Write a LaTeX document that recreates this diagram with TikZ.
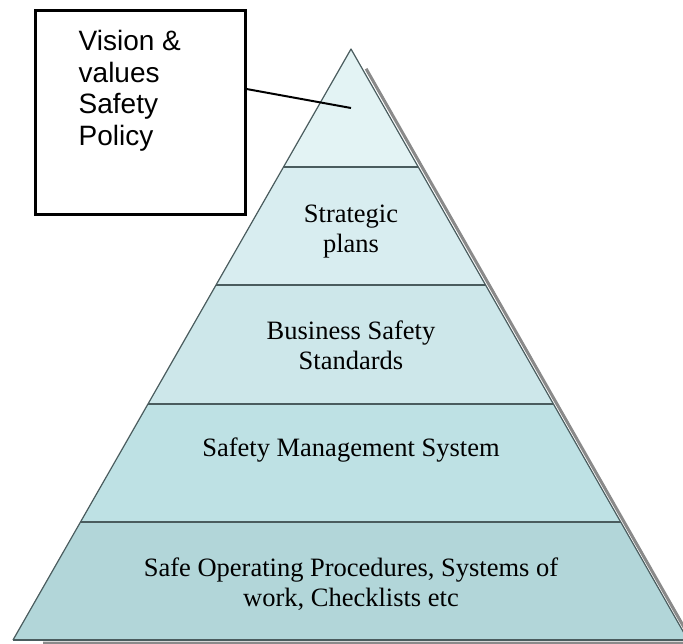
\documentclass[tikz,border=0pt]{standalone}
\usepackage{fontspec}
\setmainfont{Liberation Serif}
\newfontfamily\calloutfont{Liberation Sans}
\usetikzlibrary{calc}

\definecolor{tierA}{HTML}{E3F3F4}
\definecolor{tierB}{HTML}{D8EDF0}
\definecolor{tierC}{HTML}{CDE7EA}
\definecolor{tierD}{HTML}{BEE1E4}
\definecolor{tierE}{HTML}{B2D6D9}
\definecolor{edgegrey}{HTML}{4A5C5E}
\definecolor{shadegrey}{HTML}{8A8A8A}

\begin{document}
\begin{tikzpicture}[x=1pt, y=-1pt,
  outline/.style={draw=edgegrey, line width=1.2pt, line join=round},
  divider/.style={draw=edgegrey, line width=2pt},
  shade/.style={draw=shadegrey, line width=3pt},
  tierlabel/.style={font=\fontsize{26.5}{30}\selectfont, align=center, inner sep=0pt},
  calloutbox/.style={draw=black, line width=3pt, minimum width=210pt, minimum height=204pt, inner sep=0pt},
  callouttext/.style={font=\calloutfont\fontsize{28}{31.5}\selectfont, align=left, inner sep=0pt},
  pointer/.style={draw=black, line width=2pt}]
  \useasboundingbox (0,0) rectangle (683,643);

  \coordinate (apex) at (351,49);
  \coordinate (baseL) at (13,640);
  \coordinate (baseR) at (688,640);

  % shadow on the right side and under the base
  \draw[shade] ($(apex)!0.03!(baseR)+(5,2)$) -- ($(baseR)+(5,3)$) -- ($(baseL)+(30,3)$);

  % tiers, top to bottom
  \foreach \i/\c [evaluate=\i as \lo using (\i-1)/5, evaluate=\i as \hi using \i/5] in {1/tierA,2/tierB,3/tierC,4/tierD,5/tierE}
    \fill[\c] ($(apex)!\lo!(baseL)$) -- ($(apex)!\hi!(baseL)$) -- ($(apex)!\hi!(baseR)$) -- ($(apex)!\lo!(baseR)$) -- cycle;

  \draw[outline] (baseL) -- (apex) -- (baseR);
  \draw[divider] (baseL) -- (baseR);
  \foreach \t in {0.2,0.4,0.6,0.8}
    \draw[divider] ($(apex)!\t!(baseL)$) -- ($(apex)!\t!(baseR)$);

  \node[tierlabel] (strategic) at (351,232) {Strategic\\plans};
  \node[tierlabel] (standards) at (351,345) {Business Safety\\Standards};
  \node[tierlabel] (sms) at (351,450) {Safety Management System};
  \node[tierlabel] (procedures) at (351,584) {Safe Operating Procedures, Systems of\\work, Checklists etc};

  % callout for the top tier
  \node[calloutbox] (callout) at (140,112) {};
  \node[callouttext, anchor=north west] (vision) at ([shift={(45,22)}]callout.north west) {Vision \&\\values\\Safety\\Policy};
  \coordinate (policyTip) at (351,108);
  \draw[pointer] ([yshift=23pt]callout.east) -- (policyTip);
\end{tikzpicture}
\end{document}
